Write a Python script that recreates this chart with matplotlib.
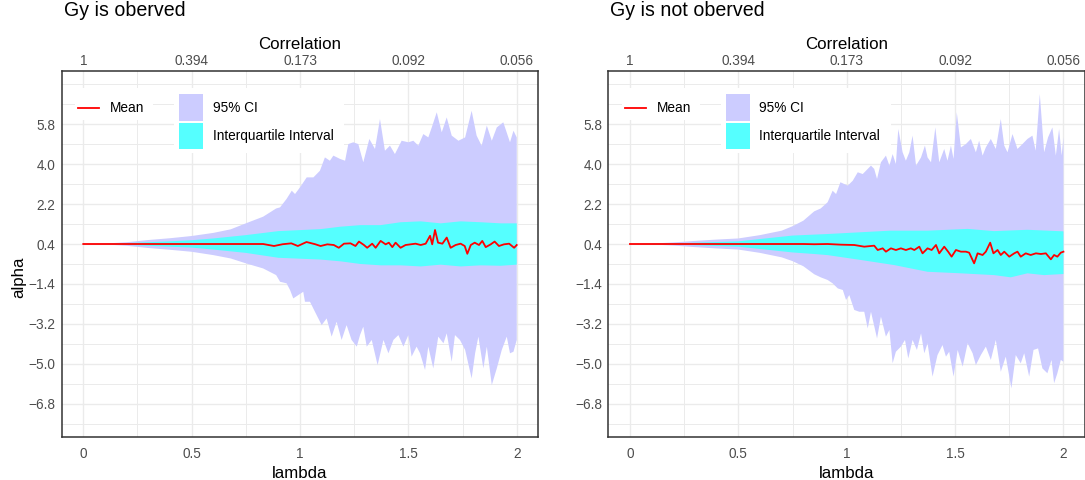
import numpy as np
import matplotlib
matplotlib.use("Agg")
import matplotlib.pyplot as plt
from matplotlib.patches import Rectangle
from matplotlib.lines import Line2D

plt.rcParams['font.family'] = ['Liberation Sans', 'DejaVu Sans']

# ---------------- data: Gy observed ----------------
lam_up95_obs = [0, 0.1, 0.2, 0.3, 0.4, 0.5, 0.6, 0.68, 0.75, 0.83, 0.89, 0.908, 0.938, 0.962,
                0.977, 1.0, 1.031, 1.062, 1.092, 1.115, 1.138, 1.154, 1.185, 1.208, 1.223,
                1.246, 1.269, 1.292, 1.32, 1.346, 1.369, 1.392, 1.415, 1.438, 1.469, 1.5,
                1.523, 1.546, 1.569, 1.592, 1.608, 1.631, 1.654, 1.677, 1.7, 1.731, 1.762,
                1.792, 1.815, 1.838, 1.862, 1.885, 1.908, 1.938, 1.969, 1.985, 2.0]
up95_obs = [0.4, 0.42, 0.48, 0.58, 0.66, 0.76, 0.9, 1.06, 1.33, 1.63, 2.0, 2.05, 2.43, 2.8,
            2.65, 2.95, 3.4, 3.4, 3.7, 4.3, 4.15, 4.38, 4.23, 4.15, 4.9,
            4.98, 4.9, 4.08, 5.13, 4.68, 6.03, 4.6, 4.83, 4.45, 5.05, 4.98,
            5.05, 4.83, 5.35, 5.2, 5.65, 6.33, 5.43, 6.1, 5.28, 5.05, 5.2,
            6.4, 5.28, 4.83, 5.73, 5.05, 5.65, 5.88, 4.98, 5.5, 5.2]

lam_lo95_obs = [0, 0.1, 0.2, 0.3, 0.4, 0.5, 0.6, 0.68, 0.75, 0.83, 0.89, 0.908, 0.938, 0.954,
                0.969, 0.992, 1.015, 1.023, 1.046, 1.069, 1.1, 1.123, 1.146, 1.169, 1.192,
                1.215, 1.238, 1.262, 1.277, 1.292, 1.308, 1.331, 1.358, 1.385, 1.408, 1.431,
                1.454, 1.477, 1.5, 1.515, 1.538, 1.554, 1.577, 1.592, 1.615, 1.638, 1.662,
                1.677, 1.7, 1.715, 1.738, 1.762, 1.792, 1.808, 1.823, 1.846, 1.862, 1.885,
                1.908, 1.931, 1.954, 1.969, 1.985, 2.0]
lo95_obs = [0.4, 0.38, 0.32, 0.22, 0.14, 0.05, -0.1, -0.25, -0.47, -0.7, -1.0, -1.3, -1.37, -1.67,
            -2.05, -1.9, -1.75, -2.2, -2.2, -2.65, -3.25, -2.95, -3.77, -3.1, -3.92,
            -3.25, -3.92, -4.22, -3.7, -3.32, -4.22, -3.92, -5.05, -3.92, -4.52, -3.92,
            -3.7, -4.22, -3.7, -4.67, -4.22, -4.52, -5.27, -4.22, -5.2, -3.77, -4.07,
            -3.62, -4.9, -3.7, -3.92, -4.37, -5.65, -4.52, -3.77, -5.2, -4.22, -5.95,
            -5.2, -4.37, -3.77, -4.52, -4.45, -3.92]

lam_iq_obs = [0, 0.1, 0.2, 0.3, 0.4, 0.5, 0.6, 0.75, 0.9, 1.095, 1.187, 1.279, 1.372, 1.464,
              1.557, 1.649, 1.741, 1.834, 1.926, 2.0]
upiq_obs = [0.4, 0.41, 0.44, 0.48, 0.52, 0.57, 0.65, 0.8, 0.98, 1.07, 1.18, 1.25, 1.25, 1.38,
            1.42, 1.33, 1.42, 1.38, 1.33, 1.33]
loiq_obs = [0.4, 0.39, 0.36, 0.32, 0.28, 0.24, 0.15, 0.0, -0.22, -0.3, -0.38, -0.5, -0.56, -0.56,
            -0.61, -0.53, -0.61, -0.56, -0.58, -0.53]

lam_mean_obs = [0, 0.2, 0.4, 0.6, 0.8, 0.83, 0.88, 0.92, 0.96, 0.99, 1.03, 1.07, 1.095, 1.126,
                1.156, 1.179, 1.203, 1.233, 1.256, 1.272, 1.295, 1.31, 1.333, 1.349, 1.372,
                1.395, 1.41, 1.426, 1.441, 1.464, 1.487, 1.51, 1.533, 1.557, 1.58, 1.6, 1.61,
                1.623, 1.637, 1.657, 1.677, 1.695, 1.718, 1.741, 1.76, 1.772, 1.788, 1.806,
                1.826, 1.841, 1.857, 1.88, 1.898, 1.918, 1.941, 1.965, 1.988, 2.0]
mean_obs = [0.4, 0.4, 0.4, 0.4, 0.4, 0.4, 0.31, 0.39, 0.43, 0.31, 0.49, 0.39, 0.31, 0.385,
            0.355, 0.23, 0.415, 0.43, 0.31, 0.51, 0.355, 0.23, 0.415, 0.23, 0.54,
            0.385, 0.46, 0.26, 0.46, 0.23, 0.355, 0.385, 0.415, 0.355, 0.415, 0.77, 0.385,
            1.03, 0.46, 0.415, 0.69, 0.23, 0.355, 0.415, 0.31, -0.04, 0.355, 0.46,
            0.355, 0.54, 0.26, 0.385, 0.51, 0.31, 0.385, 0.415, 0.23, 0.355]

# ---------------- data: Gy not observed ----------------
lam_up95_nob = [0, 0.1, 0.2, 0.3, 0.4, 0.5, 0.6, 0.7, 0.75, 0.8, 0.85, 0.88, 0.912, 0.935,
                0.951, 0.971, 0.989, 1.005, 1.028, 1.051, 1.074, 1.097, 1.112, 1.127, 1.14,
                1.158, 1.181, 1.197, 1.212, 1.227, 1.238, 1.258, 1.273, 1.289, 1.304, 1.32,
                1.343, 1.361, 1.373, 1.389, 1.409, 1.427, 1.45, 1.465, 1.481, 1.493, 1.508,
                1.527, 1.55, 1.573, 1.596, 1.611, 1.627, 1.642, 1.665, 1.688, 1.711, 1.727,
                1.742, 1.765, 1.788, 1.811, 1.834, 1.857, 1.872, 1.891, 1.911, 1.929, 1.949,
                1.965, 1.98, 1.992, 2.0]
up95_nob = [0.4, 0.42, 0.47, 0.54, 0.6, 0.65, 0.8, 1.0, 1.2, 1.45, 1.87, 2.0, 2.28, 2.8,
            2.65, 3.18, 3.1, 3.03, 3.25, 3.63, 3.55, 3.78, 3.93, 3.78, 3.33,
            4.08, 4.38, 3.93, 4.45, 4.0, 5.58, 4.53, 4.15, 4.53, 5.28, 3.93,
            4.3, 4.83, 4.3, 4.08, 5.65, 4.08, 4.68, 4.15, 4.83, 4.23, 6.33,
            4.75, 4.9, 5.13, 4.53, 5.05, 4.38, 4.75, 5.13, 4.68, 6.03, 4.83,
            4.53, 5.35, 4.68, 4.9, 5.13, 5.28, 4.6, 7.15, 4.53, 5.2, 5.65,
            4.38, 5.58, 4.38, 5.2]

lam_lo95_nob = [0, 0.1, 0.2, 0.3, 0.4, 0.5, 0.6, 0.7, 0.75, 0.8, 0.85, 0.88, 0.912, 0.935,
                0.959, 0.982, 0.997, 1.012, 1.035, 1.058, 1.081, 1.097, 1.112, 1.14, 1.158,
                1.181, 1.197, 1.212, 1.227, 1.25, 1.269, 1.284, 1.304, 1.324, 1.343, 1.358,
                1.373, 1.396, 1.419, 1.442, 1.458, 1.473, 1.493, 1.512, 1.535, 1.558, 1.581,
                1.596, 1.619, 1.642, 1.665, 1.688, 1.711, 1.734, 1.76, 1.78, 1.803, 1.819,
                1.842, 1.862, 1.883, 1.903, 1.926, 1.945, 1.957, 1.972, 1.988, 2.0]
lo95_nob = [0.4, 0.38, 0.33, 0.26, 0.2, 0.15, 0.0, -0.2, -0.37, -0.6, -0.96, -1.1, -1.22, -1.37,
            -1.6, -1.67, -2.12, -1.9, -2.57, -2.65, -2.65, -3.4, -2.65, -3.85, -2.87,
            -3.77, -3.47, -4.97, -4.45, -4.22, -3.92, -4.75, -3.92, -4.37, -3.62, -4.52,
            -4.07, -5.57, -4.6, -4.15, -4.67, -4.45, -5.57, -4.37, -5.12, -4.07, -4.52,
            -5.05, -4.6, -4.22, -4.82, -3.92, -5.35, -4.67, -6.1, -4.6, -4.97, -4.52,
            -5.57, -4.37, -4.3, -5.2, -5.42, -4.82, -5.87, -5.42, -4.82, -4.9]

lam_upiq_nob = [0, 0.25, 0.5, 0.75, 0.912, 1.066, 1.2, 1.373, 1.558, 1.68, 1.834, 2.0]
upiq_nob = [0.4, 0.44, 0.52, 0.78, 0.85, 0.93, 1.0, 1.0, 1.08, 0.98, 1.04, 0.97]
lam_loiq_nob = [0, 0.25, 0.5, 0.75, 0.85, 0.912, 1.066, 1.22, 1.373, 1.527, 1.68, 1.757,
                1.834, 1.911, 2.0]
loiq_nob = [0.4, 0.36, 0.28, 0.02, -0.05, -0.1, -0.32, -0.55, -0.85, -0.92, -1.0, -1.1,
            -0.92, -1.0, -0.95]

lam_mean_nob = [0, 0.2, 0.4, 0.6, 0.8, 0.85, 0.912, 0.974, 1.035, 1.081, 1.127, 1.143, 1.166,
                1.181, 1.204, 1.227, 1.25, 1.273, 1.296, 1.312, 1.335, 1.35, 1.373, 1.392,
                1.412, 1.427, 1.45, 1.468, 1.484, 1.504, 1.527, 1.55, 1.565, 1.588, 1.604,
                1.627, 1.642, 1.662, 1.677, 1.696, 1.711, 1.727, 1.75, 1.773, 1.788, 1.803,
                1.826, 1.849, 1.873, 1.896, 1.919, 1.942, 1.957, 1.972, 1.988, 2.0]
mean_nob = [0.4, 0.4, 0.4, 0.4, 0.4, 0.39, 0.4, 0.37, 0.355, 0.28, 0.325, 0.13, 0.205,
            0.055, 0.205, 0.13, 0.205, 0.13, 0.205, 0.13, 0.28, -0.02, 0.205, 0.13,
            0.355, -0.02, 0.28, 0.055, -0.17, 0.13, 0.055, 0.055, 0.01, -0.47, -0.02,
            -0.095, 0.055, 0.46, -0.02, 0.13, -0.095, 0.055, -0.17, -0.02, 0.055, -0.17,
            -0.02, -0.095, -0.02, -0.05, -0.02, -0.29, -0.095, -0.17, 0.01, 0.055]

# ---------------- axes scales / labels ----------------
lambda_ticks = [0, 0.5, 1, 1.5, 2]
lambda_labels = ["0", "0.5", "1", "1.5", "2"]
corr_labels = ["1", "0.394", "0.173", "0.092", "0.056"]
alpha_ticks = [-6.8, -5.0, -3.2, -1.4, 0.4, 2.2, 4.0, 5.8]
alpha_labels = ["\u22126.8", "\u22125.0", "\u22123.2", "\u22121.4", "0.4", "2.2", "4.0", "5.8"]
titles = ["Gy is oberved", "Gy is not oberved"]

CI95 = "#CCCCFF"
IQR = "#55FFFF"
MEAN = "#FF0000"
GRID = "#EBEBEB"
TXT = "#4D4D4D"

FS_TICK = 9.8
FS_LEG = 9.8
FS_AXIS = 12.2
FS_TITLE = 14.1

W, H = 1085, 480
fig = plt.figure(figsize=(W / 100, H / 100), dpi=100)

BOX_W = 476.8
BOX_H = 366.0
BOX_TOP = 71.0


def add_panel(x0):
    return fig.add_axes([x0 / W, 1 - (BOX_TOP + BOX_H) / H, BOX_W / W, BOX_H / H])


def ax_xy(dx, dy):
    """Convert pixel offsets from the panel's top-left corner into axes fractions."""
    return dx / BOX_W, 1 - dy / BOX_H


def legend_block(ax):
    # white backgrounds of the two legend boxes
    for (dx0, dx1, dy0, dy1) in [(13.4, 91.4, 17, 49), (112.4, 282.4, 17, 82)]:
        x0, y1 = ax_xy(dx0, dy0)
        x1, y0 = ax_xy(dx1, dy1)
        ax.add_patch(Rectangle((x0, y0), x1 - x0, y1 - y0, transform=ax.transAxes,
                               facecolor="white", edgecolor="none", zorder=5))
    # mean key
    xa, ya = ax_xy(16.5, 37)
    xb, _ = ax_xy(37.4, 37)
    ax.add_line(Line2D([xa, xb], [ya, ya], transform=ax.transAxes, color=MEAN,
                       lw=1.3, zorder=6))
    xt, yt = ax_xy(48.5, 37)
    ax.text(xt, yt, "Mean", transform=ax.transAxes, ha="left", va="center",
            fontsize=FS_LEG, color="black", zorder=6)
    # fill keys
    for (dy0, dy1, col, lab, dyt) in [(23.4, 49.8, CI95, "95% CI", 37),
                                       (51.6, 77.6, IQR, "Interquartile Interval", 65)]:
        x0, y1 = ax_xy(117.2, dy0)
        x1, y0 = ax_xy(141.5, dy1)
        ax.add_patch(Rectangle((x0, y0), x1 - x0, y1 - y0, transform=ax.transAxes,
                               facecolor=col, edgecolor="none", zorder=6))
        xt, yt = ax_xy(151.2, dyt)
        ax.text(xt, yt, lab, transform=ax.transAxes, ha="left", va="center",
                fontsize=FS_LEG, color="black", zorder=6)


def draw_panel(x0, title, lam_u95, u95, lam_l95, l95, lam_uiq, uiq, lam_liq, liq,
               lam_m, mean, show_ylabel):
    ax = add_panel(x0)
    lam_u95 = np.asarray(lam_u95); lam_l95 = np.asarray(lam_l95)
    lam_uiq = np.asarray(lam_uiq); lam_liq = np.asarray(lam_liq)
    ax.fill(np.concatenate([lam_u95, lam_l95[::-1]]),
            np.concatenate([u95, np.asarray(l95)[::-1]]),
            color=CI95, lw=0, zorder=2)
    ax.fill(np.concatenate([lam_uiq, lam_liq[::-1]]),
            np.concatenate([uiq, np.asarray(liq)[::-1]]),
            color=IQR, lw=0, zorder=3)
    ax.plot(lam_m, mean, color=MEAN, lw=1.3, zorder=4)

    ax.set_xlim(-0.1, 2.1)
    ax.set_ylim(-8.29, 8.19)
    ax.set_xticks(lambda_ticks)
    ax.set_xticklabels(lambda_labels)
    ax.set_xticks([0.25, 0.75, 1.25, 1.75], minor=True)
    ax.set_yticks(alpha_ticks)
    ax.set_yticklabels(alpha_labels)
    ax.set_yticks([-7.7, -5.9, -4.1, -2.3, -0.5, 1.3, 3.1, 4.9, 6.7, 7.6], minor=True)
    ax.grid(True, which="major", color=GRID, lw=1.0, zorder=0)
    ax.grid(True, which="minor", color=GRID, lw=0.7, zorder=0)
    ax.set_axisbelow(True)
    ax.tick_params(which="both", length=0)
    ax.tick_params(axis="x", labelsize=FS_TICK, labelcolor=TXT, pad=7.5)
    ax.tick_params(axis="y", labelsize=FS_TICK, labelcolor=TXT, pad=4.5)
    for sp in ax.spines.values():
        sp.set_color("#333333")
        sp.set_linewidth(1.1)
        sp.set_zorder(7)

    top = ax.secondary_xaxis("top")
    top.set_xticks(lambda_ticks)
    top.set_xticklabels(corr_labels)
    top.tick_params(length=0, labelsize=FS_TICK, labelcolor=TXT, pad=2.0)
    top.spines["top"].set_visible(False)

    cx = (x0 + BOX_W / 2) / W
    fig.text(cx, 1 - 48.6 / H, "Correlation", ha="center", va="baseline", fontsize=FS_AXIS)
    fig.text(cx, 1 - 478.5 / H, "lambda", ha="center", va="baseline", fontsize=FS_AXIS)
    fig.text((x0 + 2) / W, 1 - 15.6 / H, title, ha="left", va="baseline", fontsize=FS_TITLE)
    if show_ylabel:
        fig.text(19 / W, 1 - 257 / H, "alpha", ha="right", va="center", rotation=90,
                 rotation_mode="anchor", fontsize=FS_AXIS)

    legend_block(ax)
    return ax


draw_panel(61.6, titles[0], lam_up95_obs, up95_obs, lam_lo95_obs, lo95_obs,
           lam_iq_obs, upiq_obs, lam_iq_obs, loiq_obs, lam_mean_obs, mean_obs, True)
draw_panel(608.3, titles[1], lam_up95_nob, up95_nob, lam_lo95_nob, lo95_nob,
           lam_upiq_nob, upiq_nob, lam_loiq_nob, loiq_nob, lam_mean_nob, mean_nob, False)

fig.savefig("out.png", dpi=100)
